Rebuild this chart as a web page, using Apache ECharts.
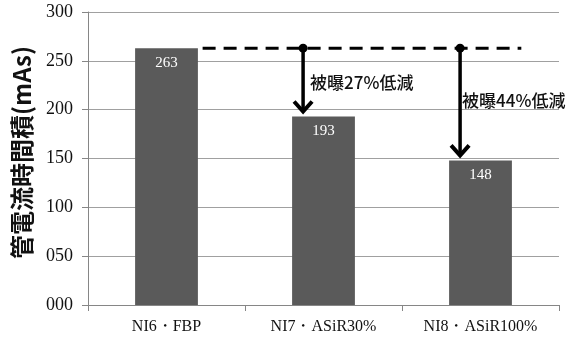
<!DOCTYPE html>
<html>
<head>
<meta charset="utf-8">
<script src="https://cdn.jsdelivr.net/npm/echarts@6/dist/echarts.min.js"></script>
<style>
  html, body { margin: 0; padding: 0; background: #fff; }
  #chart { width: 576px; height: 340px; }
</style>
</head>
<body>
<div id="chart"></div>
<script>
// Tube current-time product per reconstruction protocol
const categories = ['NI6・FBP', 'NI7・ASiR30%', 'NI8・ASiR100%'];
const mAsValues = [263, 193, 148];
const yTicks = [0, 50, 100, 150, 200, 250, 300];
// Reduction annotations: from the baseline (index 0) down to each target bar
const reductions = [
  { target: 1, text: '被曝27%低減' },
  { target: 2, text: '被曝44%低減' }
];

const serif = 'Liberation Serif';
const cjk = 'Noto Sans CJK JP';

const chart = echarts.init(document.getElementById('chart'));

chart.setOption({
  animation: false,
  grid: { left: 88, right: 17, top: 12, bottom: 35 },
  xAxis: {
    type: 'category',
    data: categories,
    boundaryGap: true,
    axisLine: { lineStyle: { color: '#868686', width: 1 } },
    axisTick: { show: true, length: 6, lineStyle: { color: '#868686' } },
    axisLabel: { color: '#111', fontFamily: serif, fontSize: 16, margin: 14 }
  },
  yAxis: {
    type: 'value',
    min: yTicks[0],
    max: yTicks[yTicks.length - 1],
    interval: 50,
    name: '管電流時間積(mAs)',
    nameLocation: 'middle',
    nameGap: 54,
    nameTextStyle: { fontFamily: cjk, fontSize: 24, color: '#111', fontWeight: 'bold', padding: [0, 0, 0, 12] },
    axisLine: { show: true, lineStyle: { color: '#868686', width: 1 } },
    axisTick: { show: true, length: 6, lineStyle: { color: '#868686' } },
    splitLine: { lineStyle: { color: '#a0a0a0', width: 1 } },
    axisLabel: {
      color: '#111', fontFamily: serif, fontSize: 18, margin: 15,
      formatter: v => String(v).padStart(3, '0')
    }
  },
  series: [{
    type: 'bar',
    data: mAsValues,
    barWidth: '40%',
    itemStyle: { color: '#5a5a5a' },
    label: {
      show: true,
      position: 'insideTop',
      distance: 7,
      color: '#fff',
      fontFamily: serif,
      fontSize: 15
    }
  }]
});

// Annotation overlay: dashed baseline and reduction arrows, placed through the axes
function drawAnnotations() {
  const toPx = (x, y) => chart.convertToPixel({ xAxisIndex: 0, yAxisIndex: 0 }, [x, y]);
  const base = mAsValues[0];
  const p0 = toPx(0, base);
  const p1 = toPx(1, base);
  const band = p1[0] - p0[0];
  const baseY = p0[1];
  const lastX = toPx(categories.length - 1, base)[0];

  const elements = [];
  // dashed reference line at the baseline value
  elements.push({
    type: 'line',
    shape: { x1: p0[0] + band * 0.23, y1: baseY, x2: lastX + band * 0.26, y2: baseY },
    style: { stroke: '#000', lineWidth: 3, lineDash: [13, 8] },
    z: 10
  });

  const labelDx = [7, 2];
  const labelDy = [34, 52];
  reductions.forEach((r, i) => {
    const top = toPx(r.target, base);
    const bottom = toPx(r.target, mAsValues[r.target]);
    const ax = top[0] - band * 0.13;
    const tipY = bottom[1] - 4;
    elements.push({
      type: 'line',
      shape: { x1: ax, y1: baseY, x2: ax, y2: tipY - 2 },
      style: { stroke: '#000', lineWidth: 3.5 },
      z: 11
    });
    elements.push({
      type: 'polyline',
      shape: { points: [[ax - 9, tipY - 11], [ax, tipY - 1], [ax + 9, tipY - 11]] },
      style: { stroke: '#000', lineWidth: 4, fill: null, lineJoin: 'miter' },
      z: 11
    });
    elements.push({
      type: 'circle',
      shape: { cx: ax, cy: baseY, r: 4.5 },
      style: { fill: '#000' },
      z: 12
    });
    elements.push({
      type: 'text',
      x: ax + labelDx[i],
      y: baseY + labelDy[i],
      style: {
        text: r.text, fill: '#111', font: '500 17px "' + cjk + '"',
        textAlign: 'left', textVerticalAlign: 'middle'
      },
      z: 12
    });
  });

  chart.setOption({ graphic: { elements } });
}

drawAnnotations();
</script>
</body>
</html>
